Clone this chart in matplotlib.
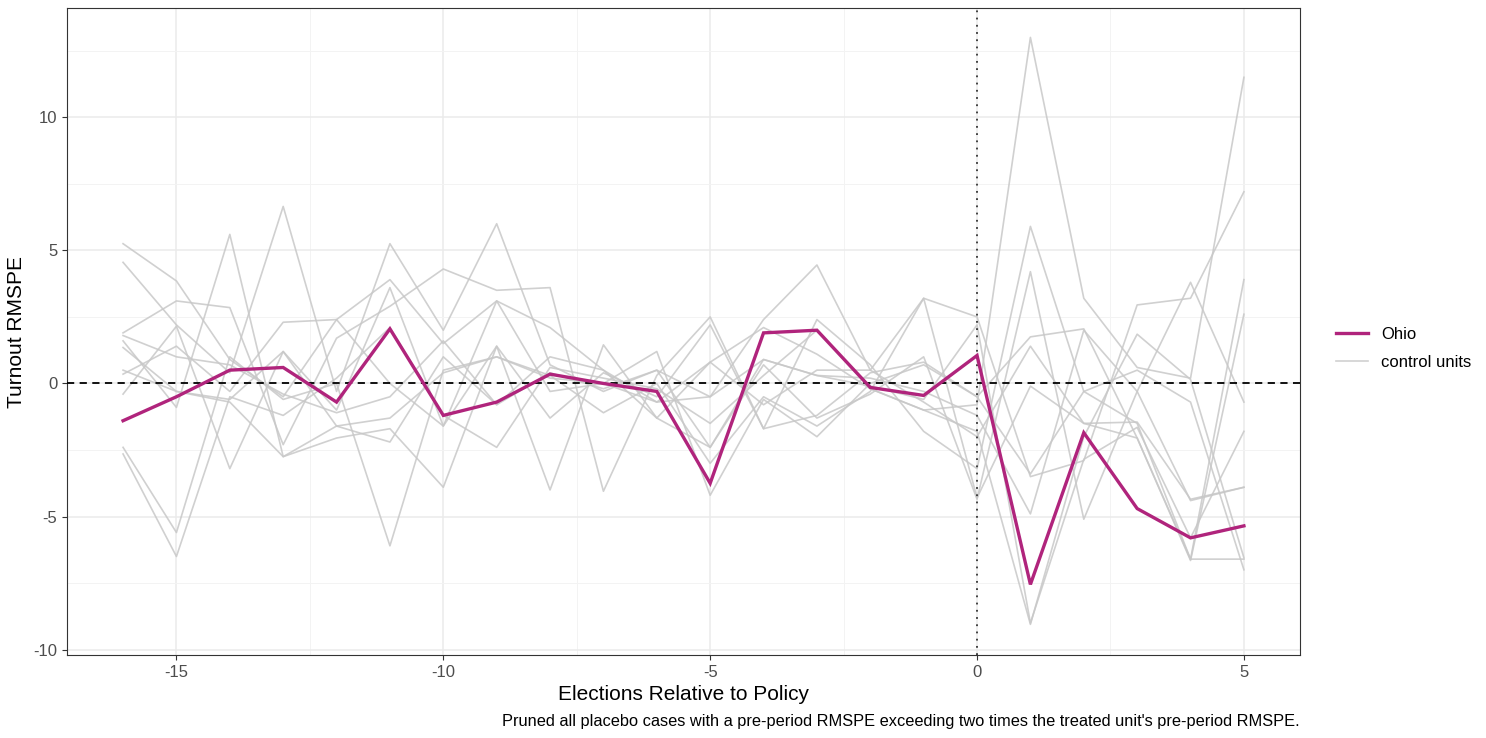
import matplotlib
matplotlib.use("Agg")
import matplotlib.pyplot as plt
import numpy as np

plt.rcParams['font.family'] = ['Liberation Sans', 'DejaVu Sans']
plt.rcParams['axes.unicode_minus'] = False

# elections relative to policy
periods = list(range(-16, 6))

ohio = [-1.4, -0.5, 0.5, 0.6, -0.7, 2.05, -1.2, -0.7, 0.35, 0.0, -0.3, -3.75,
        1.9, 2.0, -0.15, -0.45, 1.05, -7.55, -1.85, -4.7, -5.8, -5.35]

# placebo (control unit) gaps
control_1 = [5.25, 3.85, 0.9, -0.5, 2.4, 3.9, 1.5, 3.1, 2.1, 0.5, -1.3, 0.8,
             2.1, 1.1, -0.2, -1.0, -0.8, 13.0, 3.2, 0.6, 0.2, 11.5]
control_2 = [4.55, 2.2, 0.4, 6.65, -0.3, 5.25, 2.0, 6.0, 0.7, -0.3, 0.5, -0.5,
             2.4, 4.45, 0.5, 3.2, 2.5, -3.5, -2.9, 2.95, 3.2, 7.2]
control_3 = [1.9, 3.1, 2.85, -2.3, 1.7, 2.9, 4.3, 3.5, 3.6, -4.05, 0.3, 2.5,
             -1.7, 2.4, 0.7, -1.8, -3.2, 5.9, -0.3, -1.5, -6.6, 3.9]
control_4 = [1.6, -0.9, 5.6, -2.75, -2.05, -1.7, -3.9, 1.4, -4.0, 1.45, -1.3, -2.4,
             0.7, -1.3, -0.4, 1.0, -4.35, 4.2, -5.1, -0.3, 3.8, -0.7]
control_5 = [0.35, 1.4, -0.3, 2.3, 2.4, 0.0, -1.6, 3.1, -0.3, 0.0, 1.2, -4.2,
             -0.6, -2.0, 0.0, 0.7, -0.5, 1.75, 2.05, -2.05, -6.65, 2.6]
control_6 = [-0.4, 2.15, -3.2, 1.2, -1.6, -2.2, 1.0, -0.8, 1.0, 0.5, -0.7, -0.5,
             0.9, 0.3, -0.1, -0.6, 2.2, -9.0, -2.85, -1.65, -5.8, -1.8]
control_7 = [-2.4, -5.6, 1.0, -0.6, 0.0, -6.1, 0.5, 1.0, 0.3, -1.1, 0.0, -3.0,
             -0.5, -1.6, -0.3, 3.2, -4.3, -0.1, -1.5, -1.45, -4.35, -3.9]
control_8 = [-2.65, -6.5, -0.5, -1.2, 0.2, 2.1, -1.2, -2.4, 0.6, 0.2, -0.2, -1.5,
             0.3, 2.0, -0.2, -1.0, -1.8, -9.05, -2.0, 1.85, 0.15, -6.55]
control_9 = [1.35, -0.3, -0.6, 1.2, -1.0, 3.6, -1.6, 1.4, -1.3, 0.4, -0.5, 2.2,
             -1.7, -1.2, 0.4, 0.8, -0.5, -3.4, -0.3, 0.5, -0.7, -7.0]
control_10 = [1.8, 1.0, 0.7, -0.4, -1.1, -0.5, 1.6, -0.8, 0.4, -0.2, 0.5, -2.4,
              0.9, 0.3, 0.2, -0.3, -1.2, -4.9, 2.0, -0.3, -4.4, -3.9]
control_11 = [0.5, -0.3, -0.7, -2.75, -1.6, -1.3, 0.4, 1.0, 0.2, 0.0, -0.7, 0.8,
              -0.8, 0.5, 0.5, -0.7, -2.0, 1.4, -1.5, -2.05, -6.6, -6.6]
controls = [control_1, control_2, control_3, control_4, control_5, control_6,
            control_7, control_8, control_9, control_10, control_11]

caption = ("Pruned all placebo cases with a pre-period RMSPE exceeding two times "
           "the treated unit's pre-period RMSPE.")

fig = plt.figure(figsize=(14.86, 7.38), dpi=100)
ax = fig.add_axes([0.0451, 0.1125, 0.8297, 0.8765])

for i, c in enumerate(controls):
    ax.plot(periods, c, color='#c8c8c8', lw=1.2, alpha=0.85,
            label='control units' if i == 0 else None, zorder=2)
ax.plot(periods, ohio, color='#b0247c', lw=2.4, label='Ohio', zorder=4,
        solid_joinstyle='miter')

ax.axhline(0, color='black', ls=(0, (4, 3)), lw=1.3, zorder=3)
ax.axvline(0, color='#333333', ls=(0, (1, 3)), lw=1.3, zorder=3)

ax.set_xlim(-17.05, 6.05)
ax.set_ylim(-10.2, 14.1)
ax.set_xticks([-15, -10, -5, 0, 5])
ax.set_yticks([-10, -5, 0, 5, 10])
ax.set_xticks([-12.5, -7.5, -2.5, 2.5], minor=True)
ax.set_yticks([-7.5, -2.5, 2.5, 7.5, 12.5], minor=True)
ax.grid(which='major', color='#ebebeb', lw=1.1, zorder=0)
ax.grid(which='minor', color='#f3f3f3', lw=0.7, zorder=0)
ax.set_axisbelow(True)
ax.tick_params(which='minor', length=0)
ax.tick_params(which='major', length=3.5, color='#333333', labelsize=12,
               labelcolor='#4d4d4d')
for s in ax.spines.values():
    s.set_color('#333333')
    s.set_linewidth(0.8)

ax.set_xlabel('Elections Relative to Policy', fontsize=15, labelpad=4)
ax.set_ylabel('Turnout RMSPE', fontsize=15, labelpad=5)

handles, labels = ax.get_legend_handles_labels()
leg = fig.legend(handles[::-1], labels[::-1], loc='center left',
                 bbox_to_anchor=(0.889, 0.528), frameon=False, fontsize=12,
                 handlelength=1.9, labelspacing=0.8)

fig.text(0.8748, 0.012, caption, ha='right', va='bottom', fontsize=11.8)

fig.savefig('out.png', dpi=100)
